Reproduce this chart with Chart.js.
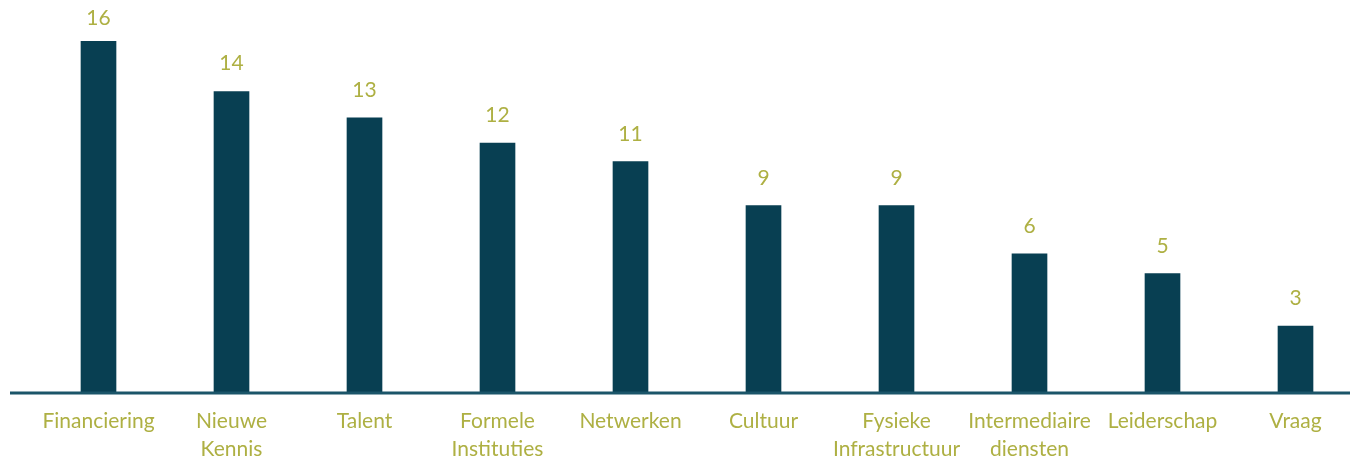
<!DOCTYPE html>
<html>
<head>
    <title>Knelpunten</title>
    <script src="https://cdn.jsdelivr.net/npm/chart.js"></script>
    <style>
        html, body { margin: 0; padding: 0; background: #fff; overflow: hidden; }
        /* a bit wider than the window so the bars sit where the original has them */
        #wrap { width: 1362px; height: 461px; }
    </style>
</head>
<body>
    <div id="wrap"><canvas id="bar-chart"></canvas></div>

    <script>
        // categories (multi-line labels as in the picture)
        const categories = [
            'Financiering',
            ['Nieuwe', 'Kennis'],
            'Talent',
            ['Formele', 'Instituties'],
            'Netwerken',
            'Cultuur',
            ['Fysieke', 'Infrastructuur'],
            ['Intermediaire', 'diensten'],
            'Leiderschap',
            'Vraag'
        ];
        // bar lengths as drawn (they do not quite follow the printed numbers)
        const barValues = [16, 13.7, 12.5, 11.35, 10.5, 8.5, 8.5, 6.3, 5.4, 3.0];
        // numbers printed above the bars
        const valueLabels = [16, 14, 13, 12, 11, 9, 9, 6, 5, 3];

        const barColor = '#083f52';
        const textColor = '#aeb043';
        const axisColor = '#1b5569';

        // value labels above each bar
        const valueLabelPlugin = {
            id: 'valueLabels',
            afterDatasetsDraw(chart) {
                const ctx = chart.ctx;
                const meta = chart.getDatasetMeta(0);
                ctx.save();
                ctx.fillStyle = textColor;
                ctx.font = '21px Lato';
                ctx.textAlign = 'center';
                ctx.textBaseline = 'alphabetic';
                meta.data.forEach((bar, i) => {
                    const gap = i === 0 ? 16 : 21;
                    ctx.fillText(String(valueLabels[i]), bar.x, bar.y - gap);
                });
                ctx.restore();
            }
        };

        // baseline running under the whole chart
        const baselinePlugin = {
            id: 'baseline',
            afterDatasetsDraw(chart) {
                const ctx = chart.ctx;
                const y = chart.scales.y.getPixelForValue(0) + 1;
                ctx.save();
                ctx.strokeStyle = axisColor;
                ctx.lineWidth = 3;
                ctx.beginPath();
                ctx.moveTo(10, y);
                ctx.lineTo(chart.width, y);
                ctx.stroke();
                ctx.restore();
            }
        };

        const ctx = document.getElementById('bar-chart').getContext('2d');
        new Chart(ctx, {
            type: 'bar',
            data: {
                labels: categories,
                datasets: [{
                    data: barValues,
                    backgroundColor: barColor,
                    barThickness: 35,
                    borderWidth: 0
                }]
            },
            options: {
                responsive: true,
                maintainAspectRatio: false,
                animation: false,
                layout: { padding: { left: 32, right: 0, top: 41, bottom: 0 } },
                plugins: {
                    legend: { display: false },
                    tooltip: { enabled: false }
                },
                scales: {
                    x: {
                        grid: { display: false, drawTicks: false },
                        border: { display: false },
                        ticks: {
                            color: textColor,
                            font: { family: 'Lato', size: 21, lineHeight: 1.33 },
                            padding: 15,
                            maxRotation: 0,
                            autoSkip: false
                        },
                        afterFit: s => { s.height = 69; }
                    },
                    y: {
                        display: false,
                        min: 0,
                        max: 16
                    }
                }
            },
            plugins: [valueLabelPlugin, baselinePlugin]
        });
    </script>
</body>
</html>
